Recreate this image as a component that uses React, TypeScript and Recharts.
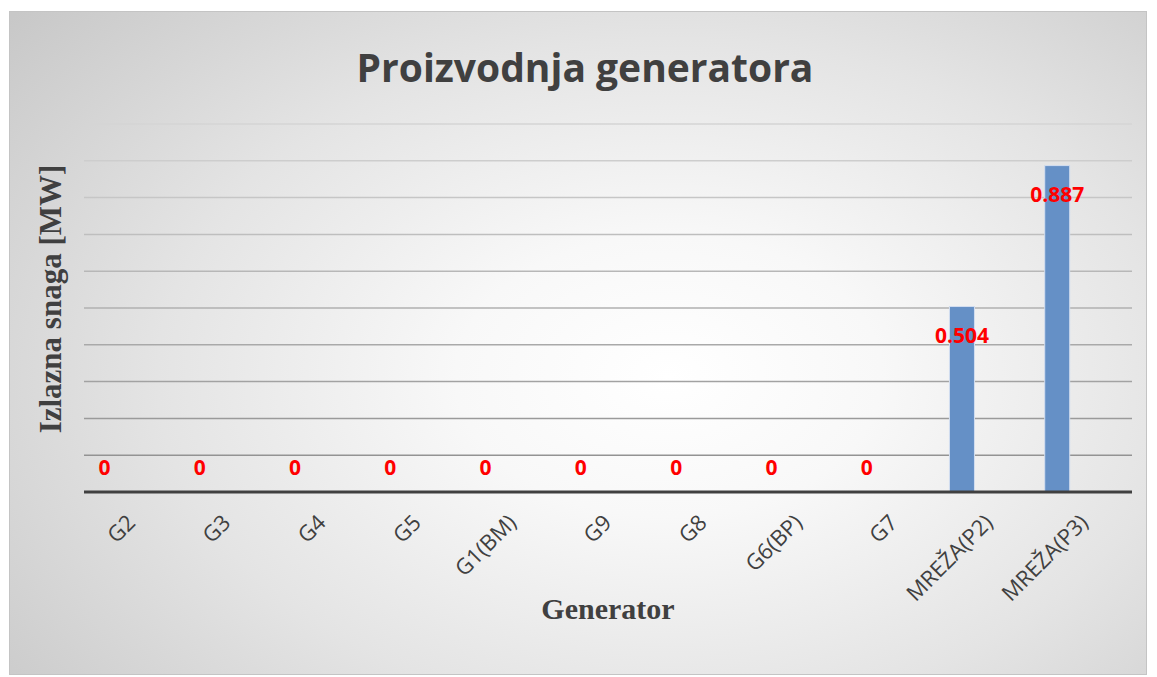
import React from 'react';
import { BarChart, Bar, XAxis, YAxis, CartesianGrid, LabelList, Label, Rectangle } from 'recharts';

const categories = ['G2', 'G3', 'G4', 'G5', 'G1(BM)', 'G9', 'G8', 'G6(BP)', 'G7', 'MREŽA(P2)', 'MREŽA(P3)'];
const outputMW = [0, 0, 0, 0, 0, 0, 0, 0, 0, 0.504, 0.887];
const secondSeries: (number | null)[] = [null, null, null, null, null, null, null, null, null, null, null];
const yTicks = [0, 0.1, 0.2, 0.3, 0.4, 0.5, 0.6, 0.7, 0.8, 0.9, 1.0];

const data = categories.map((name, i) => ({ name, value: outputMW[i], other: secondSeries[i] }));

const W = 1138;
const H = 664;
const PLOT_TOP = 113;
const PLOT_BOTTOM = 481;

const mix = (a: number, b: number, t: number) => Math.round(a + (b - a) * t);

const renderGridLine = (props: any) => {
  const { x1, x2, y1, y2 } = props;
  const t = Math.max(0, Math.min(1, (Number(y1) - PLOT_TOP) / (PLOT_BOTTOM - PLOT_TOP)));
  const c = mix(0xd4, 0x8c, t);
  const hex = c.toString(16).padStart(2, '0');
  return <line key={`g-${y1}`} x1={x1} x2={x2} y1={y1} y2={y2} stroke={`#${hex}${hex}${hex}`} strokeWidth={1.5} />;
};

const renderTick = (props: any) => {
  const { x, y, payload } = props;
  const ax = x + 5;
  const ay = y + 24;
  return (
    <text
      x={ax}
      y={ay}
      textAnchor="end"
      fill="#404040"
      fontSize={22}
      fontFamily="'Open Sans', sans-serif"
      transform={`rotate(-45, ${ax}, ${ay})`}
    >
      {payload.value}
    </text>
  );
};

const renderEmptyTick = () => <g />;

const renderBarShape = (props: any) => {
  if (props.payload && props.payload.value === 0) return <g />;
  return <Rectangle {...props} />;
};

const renderValueLabel = (props: any) => {
  const { x, y, width, height, value } = props;
  if (value === null || value === undefined) return null;
  const cx = Number(x) + Number(width) / 2;
  const cy = value === 0 ? Number(y) + Number(height) - 25 : Number(y) + 28;
  return (
    <text
      x={cx}
      y={cy}
      textAnchor="middle"
      dominantBaseline="central"
      fill="#ff0000"
      fontSize={21}
      fontWeight="bold"
      fontFamily="'Open Sans', sans-serif"
    >
      {value}
    </text>
  );
};

export default function App() {
  return (
    <div
      style={{
        position: 'relative',
        width: W,
        height: H,
        margin: '3px 0 0 1px',
        border: '1px solid #c4c4c4',
        boxSizing: 'border-box',
        background:
          'radial-gradient(ellipse 75% 85% at 58% 55%, #ffffff 0%, #f8f8f8 25%, #e4e4e4 60%, #c8c8c8 100%)',
      }}
    >
      <div
        style={{
          position: 'absolute',
          left: 0,
          top: 28,
          width: '100%',
          textAlign: 'center',
          fontFamily: "'Open Sans', sans-serif",
          fontWeight: 'bold',
          fontSize: 39,
          color: '#404040',
          paddingLeft: 14,
          boxSizing: 'border-box',
        }}
      >
        Proizvodnja generatora
      </div>
      <BarChart
        width={W}
        height={H}
        data={data}
        margin={{ top: PLOT_TOP, right: 15, bottom: 0, left: 0 }}
        barGap={30}
        style={{ position: 'absolute', left: -1, top: -1 }}
      >
        <CartesianGrid vertical={false} horizontal={renderGridLine} />
        <XAxis
          dataKey="name"
          height={183}
          tickLine={false}
          axisLine={{ stroke: '#404040', strokeWidth: 3 }}
          tick={renderTick}
          interval={0}
        >
          <Label
            content={(p: any) => {
              const vb = p.viewBox;
              return (
                <text
                  x={vb.x + vb.width / 2}
                  y={597}
                  textAnchor="middle"
                  dominantBaseline="central"
                  fill="#404040"
                  fontSize={30}
                  fontWeight="bold"
                  fontFamily="'Liberation Serif', 'Times New Roman', serif"
                >
                  Generator
                </text>
              );
            }}
          />
        </XAxis>
        <YAxis
          width={75}
          domain={[0, 1]}
          ticks={yTicks}
          interval={0}
          tick={renderEmptyTick}
          tickLine={false}
          axisLine={false}
        >
          <Label
            content={() => (
              <text
                x={41}
                y={288}
                textAnchor="middle"
                dominantBaseline="central"
                fill="#404040"
                fontSize={31}
                fontWeight="bold"
                fontFamily="'Liberation Serif', 'Times New Roman', serif"
                transform="rotate(-90, 41, 288)"
              >
                Izlazna snaga [MW]
              </text>
            )}
          />
        </YAxis>
        <Bar
          dataKey="value"
          barSize={25}
          fill="#6590c6"
          stroke="#d3def0"
          strokeWidth={1}
          minPointSize={1}
          shape={renderBarShape}
          isAnimationActive={false}
        >
          <LabelList dataKey="value" content={renderValueLabel} />
        </Bar>
        <Bar dataKey="other" barSize={25} fill="#c0504d" isAnimationActive={false} />
      </BarChart>
    </div>
  );
}
